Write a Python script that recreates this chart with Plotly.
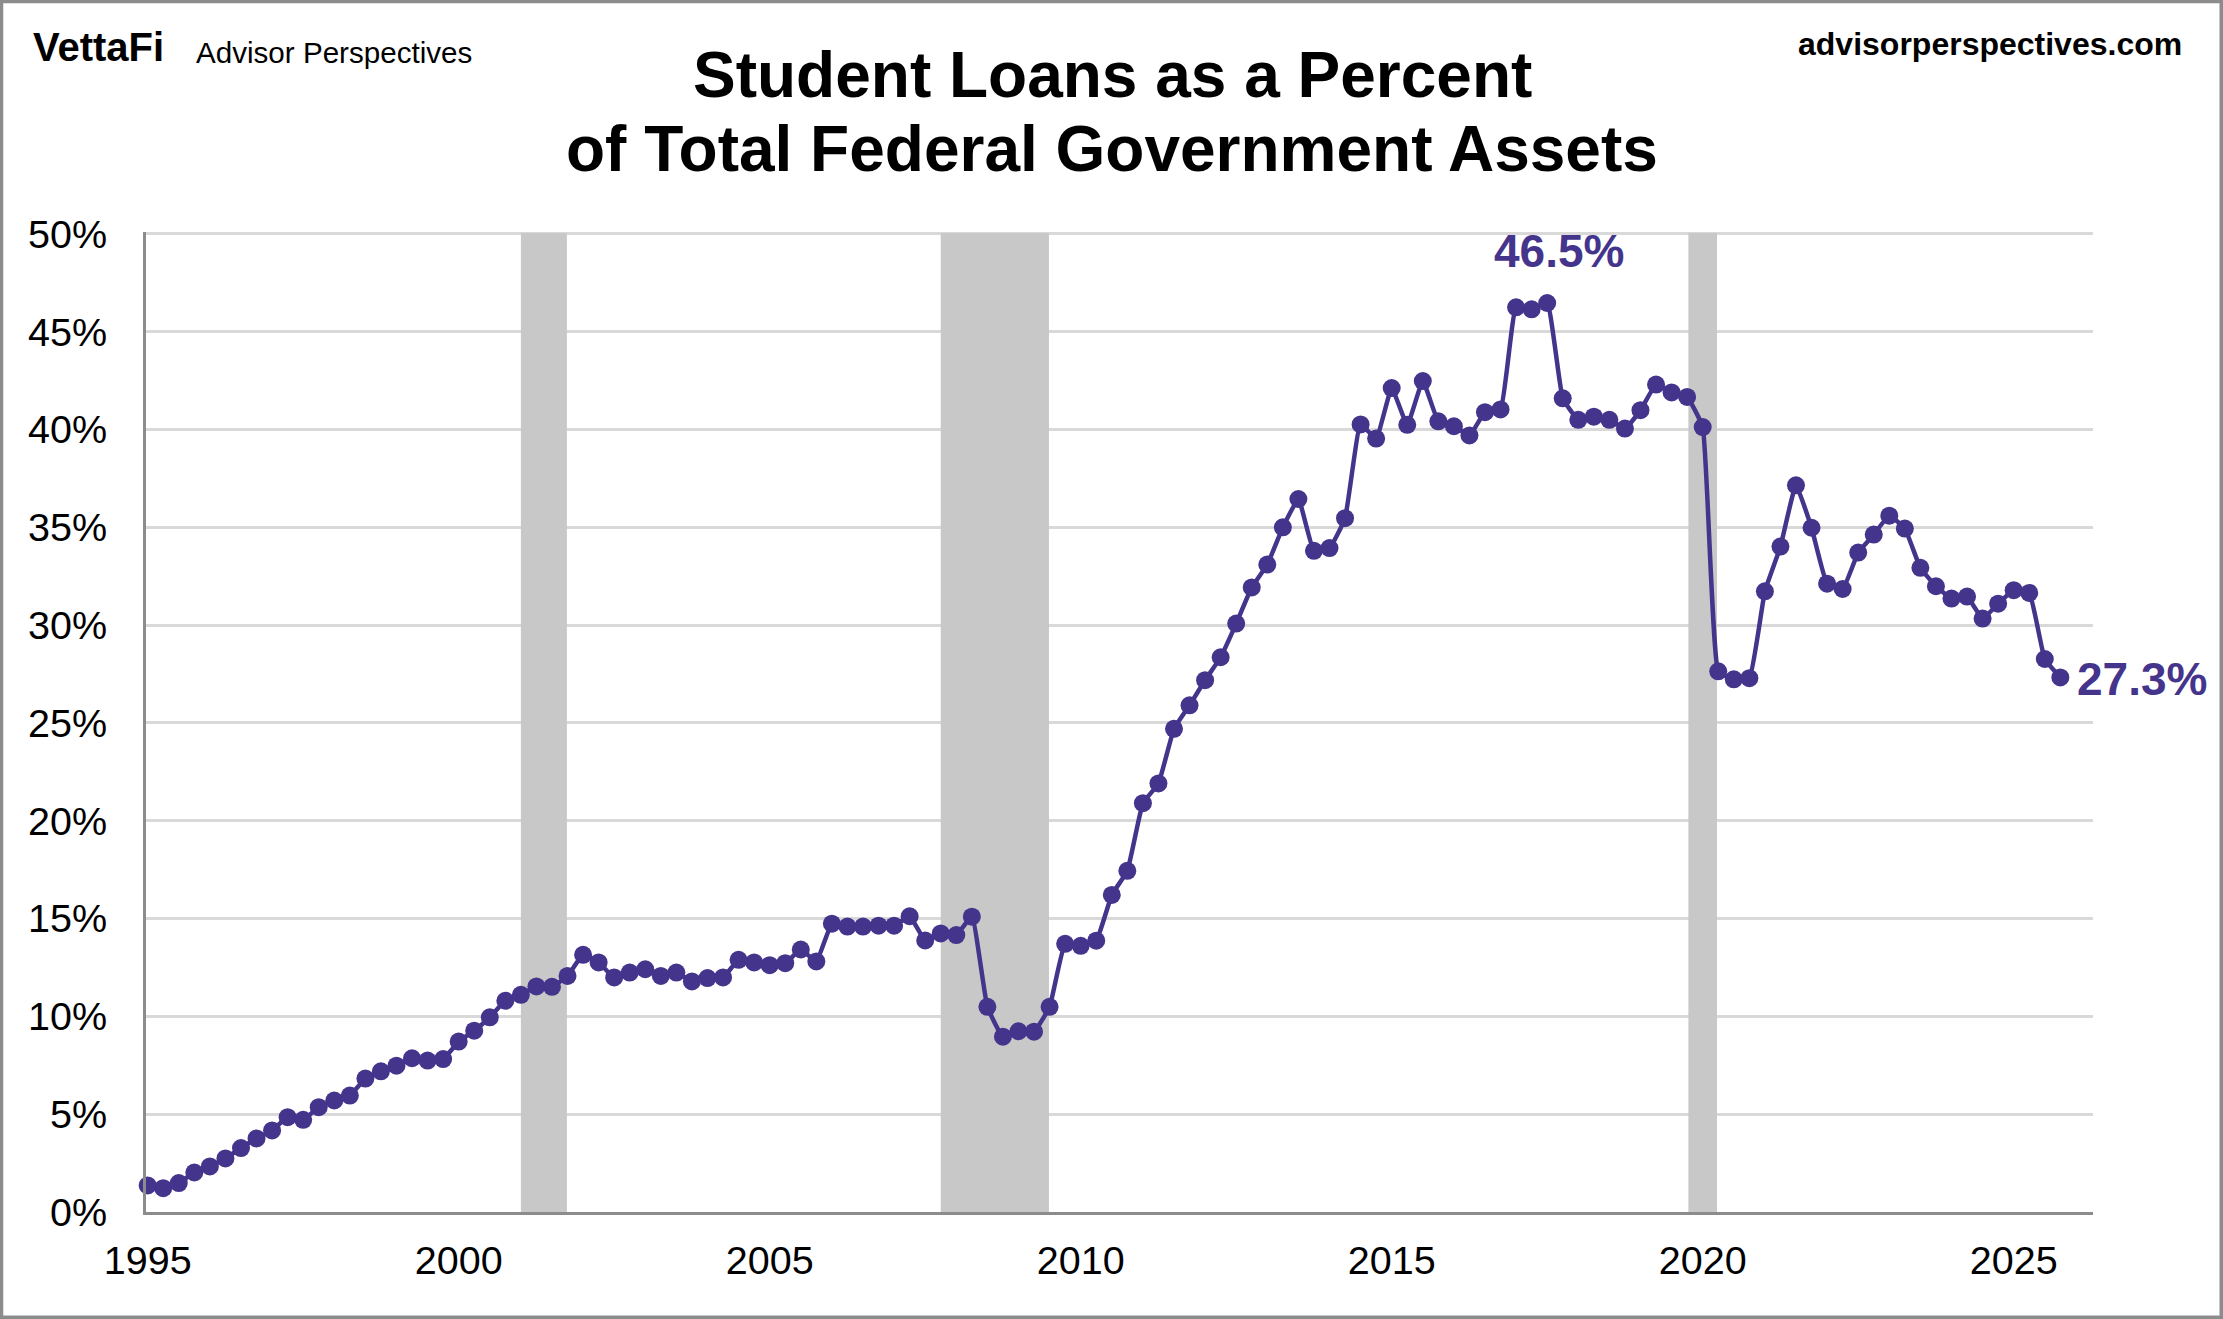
# student_loans_chart.py
import plotly.graph_objects as go

# Percent of total federal assets, one row per year, quarterly (1995 Q1 - 2025 Q4)
loan_pct = [
    1.36, 1.22, 1.48, 2.02,
    2.33, 2.74, 3.27, 3.76,
    4.17, 4.85, 4.71, 5.36,
    5.70, 5.95, 6.82, 7.19,
    7.48, 7.86, 7.74, 7.82,
    8.71, 9.27, 9.95, 10.8,
    11.1, 11.53, 11.51, 12.07,
    13.15, 12.76, 11.99, 12.24,
    12.41, 12.07, 12.24, 11.79,
    11.96, 11.99, 12.89, 12.76,
    12.62, 12.72, 13.42, 12.81,
    14.74, 14.59, 14.59, 14.64,
    14.64, 15.12, 13.88, 14.24,
    14.16, 15.1, 10.49, 8.96,
    9.24, 9.22, 10.49, 13.71,
    13.61, 13.87, 16.21, 17.44,
    20.9, 21.91, 24.7, 25.9,
    27.19, 28.36, 30.08, 31.93,
    33.1, 35.0, 36.45, 33.8,
    33.94, 35.47, 40.26, 39.54,
    42.12, 40.24, 42.48, 40.42,
    40.17, 39.7, 40.89, 41.03,
    46.25, 46.15, 46.47, 41.6,
    40.5, 40.66, 40.5, 40.05,
    40.99, 42.3, 41.9, 41.67,
    40.13, 27.64, 27.23, 27.29,
    31.73, 34.02, 37.15, 34.98,
    32.12, 31.85, 33.71, 34.63,
    35.6, 34.94, 32.93, 31.99,
    31.36, 31.46, 30.34, 31.1,
    31.79, 31.65, 28.27, 27.33,
]
quarters = [1995 + i / 4 for i in range(len(loan_pct))]

recession_start = [2001.0, 2007.75, 2019.77]
recession_end = [2001.74, 2009.49, 2020.23]

year_ticks = [1995, 2000, 2005, 2010, 2015, 2020, 2025]
pct_ticks = [0, 5, 10, 15, 20, 25, 30, 35, 40, 45, 50]
pct_labels = ["0%", "5%", "10%", "15%", "20%", "25%", "30%", "35%", "40%", "45%", "50%"]

PURPLE = "#44348C"
FRAME = "#8C8C8C"
FONT = "Liberation Sans, Arial, sans-serif"

W, H = 2223, 1319
# top sits 2px above the 50% line so the whole gridline stays visible
LEFT, RIGHT, TOP, BOTTOM = 146, 2093, 232, 1212


# pixel position on the page -> paper coordinates
def px(x):
    return (x - LEFT) / (RIGHT - LEFT)


def py(y):
    return (BOTTOM - y) / (BOTTOM - TOP)


def label(text, x, y, size, color="black", bold=False, anchor="center"):
    fig.add_annotation(
        text=f"<b>{text}</b>" if bold else text,
        x=px(x), y=py(y), xref="paper", yref="paper",
        xanchor=anchor, yanchor="middle", showarrow=False,
        font=dict(family=FONT, size=size, color=color),
    )


fig = go.Figure()

for start, end in zip(recession_start, recession_end):
    fig.add_shape(type="rect", x0=start, x1=end, y0=0, y1=50.05, xref="x", yref="y",
                  fillcolor="#C8C8C8", line_width=0, layer="between")

fig.add_trace(go.Scatter(
    x=quarters, y=loan_pct, mode="lines+markers", cliponaxis=False,
    line=dict(color=PURPLE, width=4.5, shape="spline", smoothing=0.35),
    marker=dict(color=PURPLE, size=18),
    showlegend=False,
))

# outer frame of the picture
fig.add_shape(type="rect", xref="paper", yref="paper",
              x0=px(1.5), x1=px(W - 1.75), y0=py(1.5), y1=py(H - 1.75),
              line=dict(color=FRAME, width=3.5), layer="above")

label("Student Loans as a Percent", 1112, 75, 64, bold=True)
label("of Total Federal Government Assets", 1112, 149, 64, bold=True)
label("VettaFi", 31, 47, 40, bold=True, anchor="left")
label("Advisor Perspectives", 194, 53, 29.6, anchor="left")
label("advisorperspectives.com", 2184, 44, 32, bold=True, anchor="right")
label("46.5%", 1559, 251, 46, color=PURPLE, bold=True)
label("27.3%", 2075, 679, 46, color=PURPLE, bold=True, anchor="left")

fig.update_xaxes(
    range=[1994.973, 2026.275], tickmode="array", tickvals=year_ticks,
    showgrid=False, zeroline=False, showline=True, linecolor=FRAME, linewidth=3,
    ticks="outside", ticklen=12, tickcolor="rgba(0,0,0,0)",
    tickfont=dict(family=FONT, size=39.5, color="black"),
)
fig.update_yaxes(
    range=[0, 50.1], tickmode="array", tickvals=pct_ticks, ticktext=pct_labels,
    showgrid=True, gridcolor="#D9D9D9", gridwidth=3, zeroline=False,
    showline=True, linecolor=FRAME, linewidth=3,
    ticks="outside", ticklen=28, tickcolor="rgba(0,0,0,0)",
    tickfont=dict(family=FONT, size=39.5, color="black"),
)
fig.update_layout(
    width=W, height=H, autosize=False,
    margin=dict(l=LEFT, r=W - RIGHT, t=TOP, b=H - BOTTOM, pad=0),
    paper_bgcolor="white", plot_bgcolor="white",
)

# the browser's default body margin would push the chart 8px off the page
fig.write_html("out.html", config={"displayModeBar": False},
               post_script="document.body.style.margin = '0';")
